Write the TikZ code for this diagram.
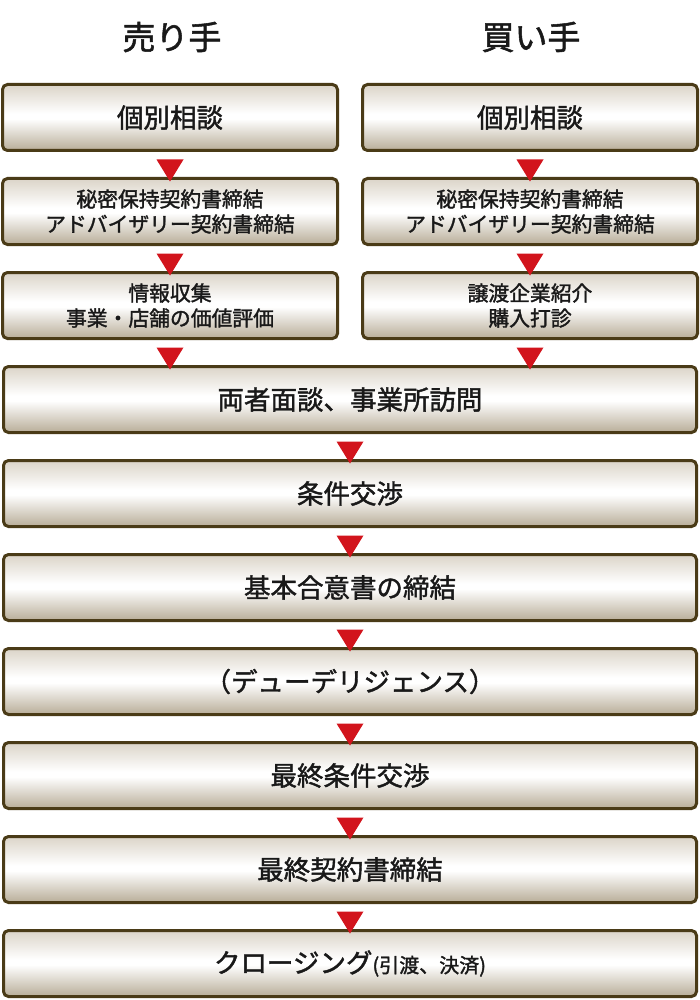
\documentclass[tikz,border=0pt]{standalone}
\usepackage{fontspec}
\setmainfont{Noto Sans CJK JP}[FakeBold=1.6]
\usetikzlibrary{calc}

\definecolor{boxline}{HTML}{4A3B17}
\definecolor{trired}{HTML}{D2141C}
\definecolor{shadetop}{HTML}{DBD4C8}
\definecolor{shadebot}{HTML}{B8AD98}

\pgfdeclareverticalshading{boxfill}{100bp}{color(0bp)=(shadebot); color(25bp)=(shadebot); color(49bp)=(white); color(53bp)=(white); color(75bp)=(shadetop); color(100bp)=(shadetop)}

\tikzset{
    stepbox/.style={draw=boxline, line width=3pt, rounded corners=5pt, shading=boxfill,
        minimum height=66pt, inner sep=0pt, align=center, text=black!90},
    halfbox/.style={stepbox, minimum width=335pt},
    fullbox/.style={stepbox, minimum width=693pt},
    bigtext/.style={font=\fontsize{26.5}{30}\selectfont},
    smalltext/.style={font=\fontsize{20.8}{25}\selectfont},
    headtext/.style={font=\fontsize{33}{36}\selectfont, text=black!90},
    tri/.style={fill=trired}
}

% red triangle from the bottom of one box into the top of the next
\newcommand{\downtri}[2]{
    \fill[tri] ($(#1.south)+(-13.5,7.5)$) -- ($(#1.south)+(13.5,7.5)$)
        -- ($(#1.south |- #2.north)+(0,4.5)$) -- cycle;
}

\begin{document}
\begin{tikzpicture}[x=1pt, y=-1pt]

    \useasboundingbox (0,0) rectangle (700,1000);

    % Column headings
    \node[headtext] (sellhead) at (172,37) {売り手};
    \node[headtext] (buyhead) at (531,37) {買い手};

    % Seller column
    \node[halfbox, bigtext] (sell1) at (170,117.5) {個別相談};
    \node[halfbox, smalltext] (sell2) at (170,211.5) {秘密保持契約書締結\\アドバイザリー契約書締結};
    \node[halfbox, smalltext] (sell3) at (170,305.5) {情報収集\\事業・店舗の価値評価};

    % Buyer column
    \node[halfbox, bigtext] (buy1) at (530,117.5) {個別相談};
    \node[halfbox, smalltext] (buy2) at (530,211.5) {秘密保持契約書締結\\アドバイザリー契約書締結};
    \node[halfbox, smalltext] (buy3) at (530,305.5) {譲渡企業紹介\\購入打診};

    % Common steps
    \node[fullbox, bigtext] (both1) at (350,399.5) {両者面談、事業所訪問};
    \node[fullbox, bigtext] (both2) at (350,493.5) {条件交渉};
    \node[fullbox, bigtext] (both3) at (350,587.5) {基本合意書の締結};
    \node[fullbox, bigtext] (both4) at (350,681.5) {（デューデリジェンス）};
    \node[fullbox, bigtext] (both5) at (350,775.5) {最終条件交渉};
    \node[fullbox, bigtext] (both6) at (350,869.5) {最終契約書締結};
    \node[fullbox, bigtext] (both7) at (350,963.5) {クロージング{\fontsize{20}{22}\selectfont(引渡、決済)}};

    % Arrows
    \downtri{sell1}{sell2}
    \downtri{sell2}{sell3}
    \downtri{sell3}{both1}
    \downtri{buy1}{buy2}
    \downtri{buy2}{buy3}
    \downtri{buy3}{both1}
    \foreach \i/\j in {1/2,2/3,3/4,4/5,5/6,6/7} {
        \downtri{both\i}{both\j}
    }

\end{tikzpicture}
\end{document}
